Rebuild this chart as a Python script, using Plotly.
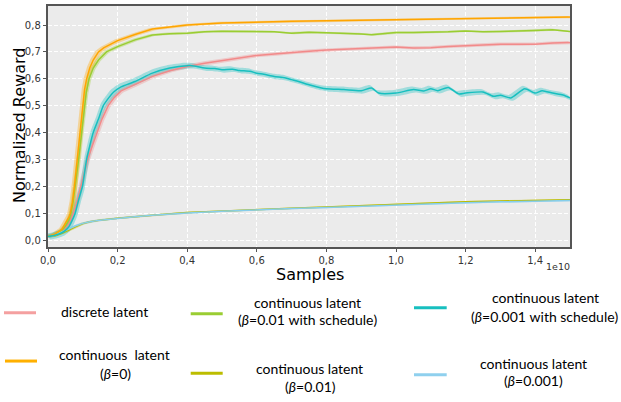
import plotly.graph_objects as go

# ---------------- data (x in units of 1e10 samples) ----------------
x_discrete = [0, 0.02, 0.04, 0.05, 0.06, 0.067, 0.073, 0.085, 0.095, 0.105, 0.114, 0.127, 0.14, 0.155, 0.173, 0.19, 0.21,
              0.25, 0.3, 0.35, 0.4, 0.45, 0.5, 0.55, 0.6, 0.65, 0.7, 0.75, 0.8, 0.85, 0.9, 0.95, 1.0, 1.05, 1.1,
              1.15, 1.2, 1.25, 1.3, 1.35, 1.4, 1.45, 1.5]
y_discrete = [0.013, 0.02, 0.032, 0.045, 0.06, 0.08, 0.1, 0.15, 0.2, 0.25, 0.3, 0.35, 0.4, 0.45, 0.5, 0.53, 0.555,
              0.578, 0.609, 0.63, 0.646, 0.658, 0.667, 0.677, 0.687, 0.692, 0.698, 0.703, 0.707, 0.71, 0.714, 0.716,
              0.718, 0.715, 0.716, 0.72, 0.724, 0.726, 0.729, 0.729, 0.729, 0.733, 0.735]

x_beta0 = [0, 0.02, 0.04, 0.05, 0.06, 0.064, 0.07, 0.076, 0.08, 0.085, 0.091, 0.099, 0.105, 0.111, 0.12, 0.13, 0.145,
           0.16, 0.18, 0.2, 0.25, 0.3, 0.35, 0.4, 0.5, 0.6, 0.7, 0.8, 0.9, 1.0, 1.1, 1.2, 1.3, 1.4, 1.5]
y_beta0 = [0.013, 0.022, 0.04, 0.06, 0.085, 0.1, 0.14, 0.2, 0.25, 0.3, 0.4, 0.5, 0.56, 0.6, 0.64, 0.67, 0.7, 0.715,
           0.73, 0.742, 0.765, 0.785, 0.793, 0.8, 0.808, 0.812, 0.814, 0.816, 0.818, 0.82, 0.822, 0.825, 0.827,
           0.829, 0.83]

x_b01s = [0, 0.02, 0.04, 0.05, 0.06, 0.066, 0.072, 0.079, 0.083, 0.088, 0.096, 0.105, 0.11, 0.118, 0.13, 0.145, 0.168,
          0.2, 0.25, 0.3, 0.35, 0.4, 0.45, 0.5, 0.55, 0.6, 0.65, 0.7, 0.75, 0.8, 0.85, 0.9, 0.93, 0.96, 1.0, 1.05,
          1.1, 1.15, 1.2, 1.25, 1.3, 1.35, 1.4, 1.45, 1.5]
y_b01s = [0.013, 0.02, 0.036, 0.052, 0.075, 0.1, 0.14, 0.2, 0.25, 0.3, 0.4, 0.5, 0.55, 0.6, 0.64, 0.67, 0.7, 0.72,
          0.745, 0.763, 0.768, 0.77, 0.775, 0.777, 0.777, 0.776, 0.775, 0.77, 0.773, 0.771, 0.77, 0.767, 0.764,
          0.768, 0.772, 0.772, 0.773, 0.775, 0.778, 0.775, 0.776, 0.777, 0.78, 0.783, 0.776]

x_b01 = [0, 0.02, 0.04, 0.05, 0.06, 0.08, 0.1, 0.12, 0.15, 0.2, 0.25, 0.3, 0.4, 0.5, 0.6, 0.7, 0.8, 0.9, 1.0,
         1.1, 1.2, 1.3, 1.4, 1.5]
y_b01 = [0.013, 0.016, 0.025, 0.03, 0.037, 0.05, 0.061, 0.068, 0.074, 0.081, 0.087, 0.092, 0.102, 0.108, 0.114,
         0.118, 0.123, 0.128, 0.133, 0.137, 0.142, 0.145, 0.148, 0.15]

x_b001s = [0, 0.02, 0.04, 0.05, 0.06, 0.07, 0.078, 0.088, 0.099, 0.105, 0.111, 0.12, 0.13, 0.145, 0.159, 0.175,
           0.188, 0.21, 0.25, 0.3, 0.35, 0.4, 0.42, 0.45, 0.48, 0.5, 0.53, 0.55, 0.58, 0.6, 0.62, 0.65, 0.68, 0.7,
           0.72, 0.75, 0.78, 0.8, 0.85, 0.9, 0.93, 0.95, 1.0, 1.05, 1.08, 1.1, 1.12, 1.15, 1.18, 1.2, 1.25, 1.28,
           1.3, 1.33, 1.37, 1.4, 1.42, 1.45, 1.48, 1.5]
y_b001s = [0.013, 0.018, 0.027, 0.036, 0.05, 0.075, 0.1, 0.15, 0.2, 0.25, 0.3, 0.35, 0.4, 0.45, 0.5, 0.53, 0.55,
           0.57, 0.59, 0.621, 0.64, 0.649, 0.648, 0.64, 0.638, 0.634, 0.636, 0.631, 0.628, 0.621, 0.617, 0.609,
           0.604, 0.597, 0.59, 0.578, 0.568, 0.563, 0.56, 0.556, 0.566, 0.547, 0.547, 0.56, 0.555, 0.563, 0.556,
           0.568, 0.544, 0.547, 0.551, 0.535, 0.539, 0.529, 0.563, 0.547, 0.556, 0.547, 0.54, 0.529]

x_b001 = x_b01
y_b001 = [0.013, 0.018, 0.03, 0.036, 0.042, 0.053, 0.062, 0.068, 0.074, 0.081, 0.087, 0.092, 0.101, 0.107, 0.113,
          0.117, 0.121, 0.126, 0.131, 0.135, 0.139, 0.142, 0.145, 0.147]

x_ticks = [0, 0.2, 0.4, 0.6, 0.8, 1.0, 1.2, 1.4]
y_ticks = [0, 0.1, 0.2, 0.3, 0.4, 0.5, 0.6, 0.7, 0.8]

# ---------------- styling ----------------
W, H = 621, 402
L, R, T, B = 48, 51, 4, 155
PW, PH = W - L - R, H - T - B

def px2x(px):
    return (px - L) / PW

def px2y(py):
    return (H - B - py) / PH

series = [
    # name, x, y, colour, band rgba, dx, dy, shape
    ("discrete", x_discrete, y_discrete, "#f28a8a", "rgba(242,138,138,0.35)", 0.006, 0.006, "linear"),
    ("b01s", x_b01s, y_b01s, "#9acd32", "rgba(154,205,50,0.35)", 0.006, 0.004, "linear"),
    ("b01", x_b01, y_b01, "#bcbd00", "rgba(188,189,0,0.35)", 0.004, 0.003, "linear"),
    ("b001", x_b001, y_b001, "#87ceeb", "rgba(135,206,235,0.45)", 0.004, 0.003, "linear"),
    ("b0", x_beta0, y_beta0, "#ffa500", "rgba(255,165,0,0.35)", 0.008, 0.004, "linear"),
    ("b001s", x_b001s, y_b001s, "#17bfbf", "rgba(23,191,191,0.35)", 0.006, 0.011, "spline"),
]

fig = go.Figure()
for name, xs, ys, col, band, dx, dy, shp in series:
    up_x = [v - dx for v in xs]
    up_y = [v + dy for v in ys]
    lo_x = [v + dx for v in xs][::-1]
    lo_y = [v - dy for v in ys][::-1]
    fig.add_trace(go.Scatter(x=up_x + lo_x, y=up_y + lo_y, fill="toself", fillcolor=band,
                             line=dict(width=0, shape=shp, smoothing=0.6), mode="lines",
                             hoverinfo="skip", showlegend=False))
for name, xs, ys, col, band, dx, dy, shp in series:
    fig.add_trace(go.Scatter(x=xs, y=ys, mode="lines",
                             line=dict(color=col, width=1.5, shape=shp, smoothing=0.6),
                             name=name, showlegend=False))

axis_common = dict(showline=True, linecolor="#555555", linewidth=1.5, mirror=True,
                   showgrid=True, gridcolor="white", gridwidth=1, griddash="4px,2px",
                   zeroline=False, ticks="outside", ticklen=3.5, tickcolor="#555555",
                   tickfont=dict(family="DejaVu Sans", size=10, color="#333333"), tickformat=".1f")

fig.update_layout(
    width=W, height=H, margin=dict(l=L, r=R, t=T, b=B),
    paper_bgcolor="white", plot_bgcolor="#ebebeb",
    separators=",.",
    xaxis=dict(range=[0, 1.5], tickvals=x_ticks, **axis_common),
    yaxis=dict(range=[-0.026, 0.871], tickvals=y_ticks, **axis_common),
)

ann = []
ann.append(dict(text="Samples", x=px2x(310), y=px2y(275), font=dict(family="DejaVu Sans", size=16, color="black")))
ann.append(dict(text="Normalized Reward", x=px2x(19), y=px2y(125), textangle=-90,
                font=dict(family="DejaVu Sans", size=16, color="black")))
ann.append(dict(text="1e10", x=px2x(558), y=px2y(267), font=dict(family="DejaVu Sans", size=9.5, color="#333333")))

lf = dict(family="Lato", size=14, color="black")
legend_text = [
    ("discrete latent", 104.7, 312.3),
    ("continuous latent", 307, 303.3),
    ("(<i>β</i>=0.01 with schedule)", 307, 320.5),
    ("continuous latent", 545, 298.3),
    ("(<i>β</i>=0.001 with schedule)", 545, 317.3),
    ("continuous  latent", 114, 355.7),
    ("(<i>β</i>=0)", 115.5, 374.3),
    ("continuous latent", 309.5, 370),
    ("(<i>β</i>=0.01)", 310, 387.7),
    ("continuous latent", 533, 364.3),
    ("(<i>β</i>=0.001)", 533, 381.7),
]
for txt, cx, cy in legend_text:
    ann.append(dict(text=txt, x=px2x(cx), y=px2y(cy), font=lf))

for a in ann:
    a.update(xref="paper", yref="paper", xanchor="center", yanchor="middle", showarrow=False)
fig.update_layout(annotations=ann)

legend_lines = [
    ("#f4a0a0", 4, 36, 313.3),
    ("#ffb000", 5, 37, 362),
    ("#9acd32", 190.7, 222.7, 314.3),
    ("#bcbd00", 190.7, 222.7, 374.3),
    ("#17bfbf", 414, 446.7, 308.3),
    ("#8fd0ee", 414, 446.7, 375.7),
]
shapes = []
for col, x0, x1, yy in legend_lines:
    shapes.append(dict(type="line", xref="paper", yref="paper", x0=px2x(x0), x1=px2x(x1),
                       y0=px2y(yy), y1=px2y(yy), line=dict(color=col, width=3)))
fig.update_layout(shapes=shapes)

fig.write_html("out.html", config={"displayModeBar": False},
               post_script="document.body.style.margin='0';document.body.style.overflow='hidden';")
